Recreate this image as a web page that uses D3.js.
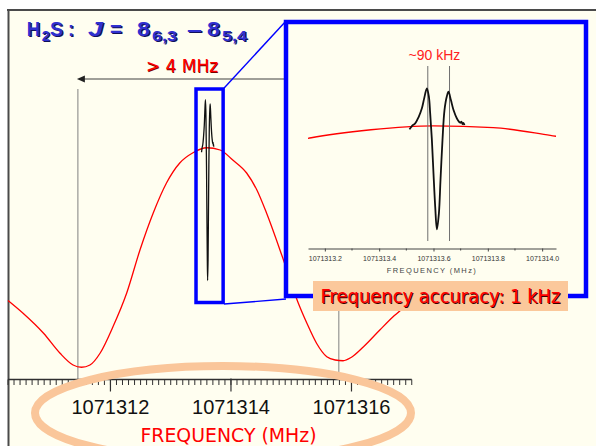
<!DOCTYPE html>
<html><head><meta charset="utf-8">
<script src="https://cdn.jsdelivr.net/npm/d3@7/dist/d3.min.js"></script>
<style>html,body{margin:0;padding:0;background:#fff;overflow:hidden}svg{display:block}</style>
</head><body>
<svg id="chart" width="596" height="446"></svg>
<script>
// ---- data (frequency in MHz, relative intensity) ----
const sweepFreq = [1071310.30, 1071310.55, 1071310.89, 1071311.16, 1071311.38, 1071311.52, 1071311.66, 1071311.83,
  1071312.04, 1071312.27, 1071312.49, 1071312.71, 1071312.93, 1071313.15, 1071313.37, 1071313.60, 1071313.82,
  1071314.03, 1071314.26, 1071314.43, 1071314.59, 1071314.86, 1071315.11, 1071315.26, 1071315.42, 1071315.59,
  1071315.73, 1071315.86, 1071316.00, 1071316.20, 1071316.47, 1071316.69, 1071316.83, 1071317.00];
const sweepValue = [0.318, 0.267, 0.187, 0.108, 0.060, 0.051, 0.060, 0.108,
  0.212, 0.348, 0.520, 0.668, 0.788, 0.868, 0.909, 0.929, 0.920,
  0.880, 0.828, 0.760, 0.668, 0.488, 0.312, 0.227, 0.147, 0.093,
  0.080, 0.077, 0.091, 0.133, 0.200, 0.253, 0.283, 0.340];

const dipFreq = [1071313.5116, 1071313.5204, 1071313.5326, 1071313.5448, 1071313.5573, 1071313.5657, 1071313.5757,
  1071313.5831, 1071313.5878, 1071313.5941, 1071313.6000, 1071313.6063, 1071313.6125, 1071313.6199, 1071313.6258,
  1071313.6331, 1071313.6405, 1071313.6494, 1071313.6552, 1071313.6641, 1071313.6737, 1071313.6862, 1071313.6983,
  1071313.7030, 1071313.7070, 1071313.7100, 1071313.7142];
const dipValue = [0.911, 0.928, 0.942, 0.973, 1.019, 1.070, 1.121,
  1.078, 0.993, 0.856, 0.685, 0.514, 0.398, 0.480, 0.651,
  0.856, 1.010, 1.082, 1.104, 1.061, 1.010, 0.967, 0.945,
  0.950, 0.938, 0.944, 0.933];

const markerFreq = [1071313.579, 1071313.659];
const guideFreq = [1071311.46, 1071315.79];

const mainTicks = [1071312, 1071314, 1071316];
const mainTickLabels = ["1071312", "1071314", "1071316"];
const insetTicks = [1071313.2, 1071313.4, 1071313.6, 1071313.8, 1071314.0];
const insetTickLabels = ["1071313.2", "1071313.4", "1071313.6", "1071313.8", "1071314.0"];

const sweep = sweepFreq.map((f, i) => [f, sweepValue[i]]);
const dip = dipFreq.map((f, i) => [f, dipValue[i]]);

// ---- scales ----
const x = d3.scaleLinear().domain([1071310.3, 1071317.0]).range([8, 411.75]);
const y = d3.scaleLinear().domain([0, 1]).range([380, 130]);
const xi = d3.scaleLinear().domain([1071313.138, 1071314.051]).range([308, 556]);
const yi = d3.scaleLinear().domain([0, 1]).range([307, 112]);

const svg = d3.select("#chart");
const cream = "#FFFEF0";

// background & frame
svg.append("rect").attr("x", 8).attr("y", 10).attr("width", 588).attr("height", 436).attr("fill", cream);
svg.append("line").attr("x1", 7).attr("x2", 596).attr("y1", 10).attr("y2", 10).attr("stroke", "#4a4a4a").attr("stroke-width", 2);
svg.append("line").attr("x1", 8.5).attr("x2", 8.5).attr("y1", 10).attr("y2", 446).attr("stroke", "#4a4a4a").attr("stroke-width", 2);

// guide lines + arrow
svg.append("line").attr("x1", x(guideFreq[0])).attr("x2", x(guideFreq[0])).attr("y1", 89).attr("y2", 379)
  .attr("stroke", "#808080").attr("stroke-width", 1);
svg.append("line").attr("x1", x(guideFreq[1])).attr("x2", x(guideFreq[1])).attr("y1", 79).attr("y2", 379)
  .attr("stroke", "#808080").attr("stroke-width", 1);
svg.append("line").attr("x1", x(guideFreq[0]) + 2).attr("x2", x(guideFreq[1])).attr("y1", 79).attr("y2", 79)
  .attr("stroke", "#404040").attr("stroke-width", 1);
{
  const ax = x(guideFreq[0]) - 1;
  svg.append("path").attr("d", `M${ax},79 L${ax + 8},75.5 L${ax + 8},82.5 Z`).attr("fill", "#202020");
}

// main red sweep
const lineMain = d3.line().x(d => x(d[0])).y(d => y(d[1])).curve(d3.curveMonotoneX);
svg.append("path").datum(sweep).attr("d", lineMain).attr("fill", "none").attr("stroke", "#FF0000").attr("stroke-width", 1.3);

// main axis
const axisG = svg.append("g").attr("transform", "translate(0,379.5)");
axisG.append("line").attr("x1", x.range()[0]).attr("x2", x.range()[1]).attr("stroke", "#303030").attr("stroke-width", 1.6);
const minor = d3.range(0, 68).map(i => +(1071310.3 + i * 0.1).toFixed(1));
axisG.selectAll("line.minor").data(minor).join("line").attr("class", "minor")
  .attr("x1", d => x(d)).attr("x2", d => x(d)).attr("y1", 0).attr("y2", 5.5)
  .attr("stroke", "#303030").attr("stroke-width", 1);
axisG.selectAll("line.major").data(mainTicks).join("line").attr("class", "major")
  .attr("x1", d => x(d)).attr("x2", d => x(d)).attr("y1", -1).attr("y2", 12)
  .attr("stroke", "#303030").attr("stroke-width", 1.2);

// orange ellipse
svg.append("ellipse").attr("cx", 223).attr("cy", 413).attr("rx", 188).attr("ry", 47)
  .attr("fill", "none").attr("stroke", "#FAC69A").attr("stroke-width", 8);

axisG.selectAll("text.tl").data(mainTicks).join("text").attr("class", "tl")
  .attr("x", d => x(d)).attr("y", 34.5).attr("text-anchor", "middle")
  .attr("font-family", "Liberation Sans, Arial, sans-serif").attr("font-size", 20)
  .attr("fill", "#111")
  .text((d, i) => mainTickLabels[i]);

svg.append("text").attr("x", 228.5).attr("y", 441.5).attr("text-anchor", "middle")
  .attr("font-family", "DejaVu Sans, sans-serif").attr("font-size", 19).attr("fill", "#FF0000")
  .attr("textLength", 176).attr("lengthAdjust", "spacingAndGlyphs")
  .text("FREQUENCY  (MHz)");

// mini lamb dip in main view
svg.append("path").datum(dip).attr("d", d3.line().x(d => x(d[0])).y(d => y(d[1])).curve(d3.curveCatmullRom))
  .attr("fill", "none").attr("stroke", "#111").attr("stroke-width", 1.3);

// small zoom box
const bx0 = x(1071313.42), bx1 = x(1071313.87);
svg.append("rect").attr("x", bx0).attr("y", 89).attr("width", bx1 - bx0).attr("height", 213.5)
  .attr("fill", "none").attr("stroke", "#0000FF").attr("stroke-width", 3.5);
svg.append("line").attr("x1", bx1 + 1).attr("y1", 88).attr("x2", 286).attr("y2", 21).attr("stroke", "#0000FF").attr("stroke-width", 1.4);
svg.append("line").attr("x1", bx1 + 1).attr("y1", 304).attr("x2", 286).attr("y2", 299).attr("stroke", "#0000FF").attr("stroke-width", 1.4);

// inset
const inset = svg.append("g");
inset.append("rect").attr("x", 286).attr("y", 22).attr("width", 300).attr("height", 274)
  .attr("fill", cream).attr("stroke", "#0000FF").attr("stroke-width", 4.5);
svg.append("clipPath").attr("id", "clipI").append("rect").attr("x", 308).attr("y", 24).attr("width", 248).attr("height", 270);
inset.append("path").datum(sweep).attr("clip-path", "url(#clipI)")
  .attr("d", d3.line().x(d => xi(d[0])).y(d => yi(d[1])).curve(d3.curveMonotoneX))
  .attr("fill", "none").attr("stroke", "#FF0000").attr("stroke-width", 1.3);
inset.selectAll("line.mk").data(markerFreq).join("line").attr("class", "mk")
  .attr("x1", d => xi(d)).attr("x2", d => xi(d)).attr("y1", 66).attr("y2", 241)
  .attr("stroke", "#707070").attr("stroke-width", 1);
inset.append("path").datum(dip).attr("d", d3.line().x(d => xi(d[0])).y(d => yi(d[1])).curve(d3.curveCatmullRom))
  .attr("fill", "none").attr("stroke", "#111").attr("stroke-width", 1.8);
inset.append("text").attr("x", xi(1071313.6) + 1).attr("y", 60).attr("text-anchor", "middle")
  .attr("font-family", "Liberation Sans, Arial, sans-serif").attr("font-size", 14).attr("fill", "#FF2020")
  .text("~90 kHz");

const iax = inset.append("g").attr("transform", "translate(0,248.5)");
iax.call(d3.axisBottom(xi).tickValues(insetTicks).tickSize(3).tickSizeOuter(0).tickFormat((d, i) => insetTickLabels[i]));
iax.select(".domain").attr("stroke", "#444");
iax.selectAll(".tick line").attr("stroke", "#444");
iax.selectAll(".tick text").attr("y", 12).attr("dy", 0).attr("font-family", "Liberation Sans, Arial, sans-serif")
  .attr("font-size", 7).attr("fill", "#333");
iax.selectAll("line.im").data([1071313.3, 1071313.5, 1071313.7, 1071313.9]).join("line").attr("class", "im")
  .attr("x1", d => xi(d)).attr("x2", d => xi(d)).attr("y1", 0).attr("y2", 2).attr("stroke", "#444");
inset.append("text").attr("x", 432).attr("y", 273).attr("text-anchor", "middle")
  .attr("font-family", "Liberation Sans, Arial, sans-serif").attr("font-size", 7.5).attr("fill", "#444")
  .attr("letter-spacing", 1.4).text("FREQUENCY  (MHz)");

// accuracy label
svg.append("rect").attr("x", 313).attr("y", 281).attr("width", 255).attr("height", 30).attr("fill", "#FBC89B");
svg.append("text").attr("x", 441.5).attr("y", 304).attr("text-anchor", "middle")
  .attr("font-family", "DejaVu Sans, sans-serif").attr("font-size", 19).attr("fill", "#3a0000")
  .attr("textLength", 240).attr("lengthAdjust", "spacingAndGlyphs").text("Frequency accuracy: 1 kHz");
svg.append("text").attr("x", 440.5).attr("y", 303).attr("text-anchor", "middle")
  .attr("font-family", "DejaVu Sans, sans-serif").attr("font-size", 19).attr("fill", "#FF0000")
  .attr("textLength", 240).attr("lengthAdjust", "spacingAndGlyphs").text("Frequency accuracy: 1 kHz");

// "> 4 MHz"
svg.append("text").attr("x", 182.6).attr("y", 72.6).attr("text-anchor", "middle")
  .attr("font-family", "DejaVu Sans, sans-serif").attr("font-size", 17).attr("fill", "#7a0000")
  .text("> 4 MHz");
svg.append("text").attr("x", 182).attr("y", 72).attr("text-anchor", "middle")
  .attr("font-family", "DejaVu Sans, sans-serif").attr("font-size", 17).attr("fill", "#FF0000")
  .text("> 4 MHz");

// title (each piece fitted to its width in the reference)
const titleParts = [
  ["H", 26.7, 36, 21, 13.3, "normal"], ["2", 41.7, 41, 15, 8, "normal"], ["S", 50, 36, 21, 13, "normal"],
  [":", 68, 36, 21, 6, "normal"], ["J", 88, 36, 21, 15, "italic"], ["=", 110, 36, 21, 12, "normal"],
  ["8", 137, 36, 21, 13, "normal"], ["6,3", 152, 41, 15, 25, "normal"], ["–", 187, 36, 21, 15, "normal"],
  ["8", 207, 36, 21, 13, "normal"], ["5,4", 222, 41, 15, 25, "normal"]
];
function title(dx, dy, fill) {
  svg.selectAll(null).data(titleParts).join("text")
    .attr("x", d => d[1] + dx).attr("y", d => d[2] + dy)
    .attr("font-family", "Liberation Sans, Arial, sans-serif").attr("font-weight", "bold")
    .attr("font-size", d => d[3]).attr("font-style", d => d[5])
    .attr("textLength", d => d[4]).attr("lengthAdjust", "spacingAndGlyphs")
    .attr("fill", fill).text(d => d[0]);
}
title(1.2, 1.2, "#10105a");
title(0, 0, "#3030D0");
</script>
</body></html>
